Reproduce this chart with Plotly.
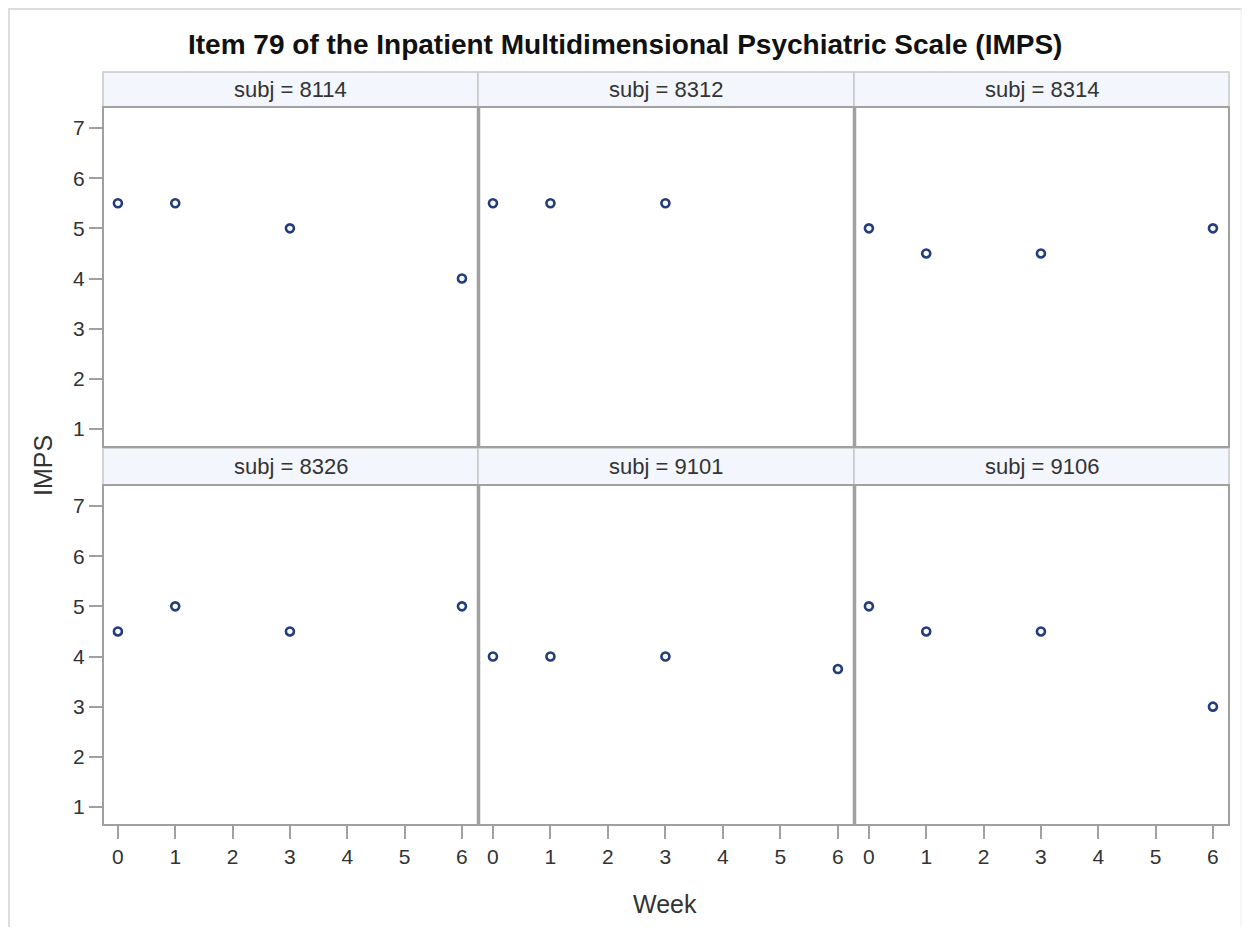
import plotly.graph_objects as go

# The page body has an 8px margin, so the figure is sized to fit the window.
W, H = 1234, 919
OFF = 8  # page offset of the figure

subjects = ["8114", "8312", "8314", "8326", "9101", "9106"]
weeks = {
    "8114": [0, 1, 3, 6],
    "8312": [0, 1, 3],
    "8314": [0, 1, 3, 6],
    "8326": [0, 1, 3, 6],
    "9101": [0, 1, 3, 6],
    "9106": [0, 1, 3, 6],
}
imps = {
    "8114": [5.5, 5.5, 5.0, 4.0],
    "8312": [5.5, 5.5, 5.5],
    "8314": [5.0, 4.5, 4.5, 5.0],
    "8326": [4.5, 5.0, 4.5, 5.0],
    "9101": [4.0, 4.0, 4.0, 3.75],
    "9106": [5.0, 4.5, 4.5, 3.0],
}
x_ticks = [0, 1, 2, 3, 4, 5, 6]
y_ticks = [1, 2, 3, 4, 5, 6, 7]

title = "Item 79 of the Inpatient Multidimensional Psychiatric Scale (IMPS)"

# pixel layout (page coordinates)
col_x = [(103, 478), (478, 854), (854, 1229)]
row_plot = [(107, 447), (485, 825)]
row_head = [(72, 107), (448, 485)]

def px(x):
    return (x - OFF) / W

def py(y):
    return 1 - (y - OFF) / H

FONT = "Liberation Sans, Arial, sans-serif"
TXT = "#333333"
BORDER = "#A0A0A0"

fig = go.Figure()
shapes = []
annotations = []

for i, s in enumerate(subjects):
    r, c = divmod(i, 3)
    n = i + 1
    xa = "xaxis" if n == 1 else f"xaxis{n}"
    ya = "yaxis" if n == 1 else f"yaxis{n}"
    xr = "x" if n == 1 else f"x{n}"
    yr = "y" if n == 1 else f"y{n}"
    x0, x1 = col_x[c]
    y0, y1 = row_plot[r]
    h0, h1 = row_head[r]
    fig.add_trace(go.Scatter(
        x=weeks[s], y=imps[s], mode="markers", xaxis=xr, yaxis=yr,
        marker=dict(symbol="circle-open", size=8, color="#233D7B",
                    line=dict(width=2.6, color="#233D7B")),
        showlegend=False, hoverinfo="x+y"))
    fig.layout[xa] = dict(
        domain=[px(x0), px(x1)], range=[-0.26, 6.28], anchor=yr,
        tickvals=x_ticks, showticklabels=(r == 1), ticks="outside" if r == 1 else "",
        ticklen=13, tickcolor=BORDER, tickwidth=1.5, showgrid=False, zeroline=False,
        showline=False, tickfont=dict(family=FONT, size=21, color=TXT), fixedrange=True)
    fig.layout[ya] = dict(
        domain=[py(y1), py(y0)], range=[0.64, 7.42], anchor=xr,
        tickvals=y_ticks, showticklabels=(c == 0), ticks="outside" if c == 0 else "",
        ticklen=13, tickcolor=BORDER, tickwidth=1.5, showgrid=False, zeroline=False,
        showline=False, tickfont=dict(family=FONT, size=21, color=TXT), fixedrange=True)
    # header strip
    shapes.append(dict(type="rect", xref="paper", yref="paper",
                       x0=px(x0), x1=px(x1), y0=py(h1), y1=py(h0),
                       fillcolor="#F3F6FC", line=dict(color="#C8C8C8", width=1.5), layer="below"))
    annotations.append(dict(text=f"subj = {s}", xref="paper", yref="paper",
                            x=px((x0 + x1) / 2), y=py((h0 + h1) / 2), showarrow=False,
                            xanchor="center", yanchor="middle",
                            font=dict(family=FONT, size=22, color=TXT)))
    # plot border
    shapes.append(dict(type="rect", xref="paper", yref="paper",
                       x0=px(x0), x1=px(x1), y0=py(y1), y1=py(y0),
                       fillcolor="rgba(0,0,0,0)", line=dict(color=BORDER, width=2), layer="above"))

# thicker dividers between adjacent plot panels
for r in range(2):
    y0, y1 = row_plot[r]
    for xd in (478.5, 854.5):
        shapes.append(dict(type="line", xref="paper", yref="paper",
                           x0=px(xd), x1=px(xd), y0=py(y1), y1=py(y0),
                           line=dict(color=BORDER, width=3.5), layer="above"))

# outer faint frame
shapes.append(dict(type="line", xref="paper", yref="paper", x0=px(9), x1=px(9), y0=0, y1=1,
                   line=dict(color="#DDDDDD", width=2)))
shapes.append(dict(type="line", xref="paper", yref="paper", x0=px(9), x1=1, y0=py(9), y1=py(9),
                   line=dict(color="#DDDDDD", width=2)))
shapes.append(dict(type="line", xref="paper", yref="paper", x0=px(1241), x1=px(1241), y0=0, y1=1,
                   line=dict(color="#EEEEEE", width=1)))

annotations.append(dict(text=f"<b>{title}</b>", xref="paper", yref="paper",
                        x=px(625), y=py(45), showarrow=False, xanchor="center", yanchor="middle",
                        font=dict(family=FONT, size=28, color="#111111")))
annotations.append(dict(text="IMPS", xref="paper", yref="paper", x=px(43), y=py(466),
                        showarrow=False, textangle=-90, xanchor="center", yanchor="middle",
                        font=dict(family=FONT, size=25, color=TXT)))
annotations.append(dict(text="Week", xref="paper", yref="paper", x=px(665), y=py(904),
                        showarrow=False, xanchor="center", yanchor="middle",
                        font=dict(family=FONT, size=25, color=TXT)))

fig.update_layout(width=W, height=H, margin=dict(l=0, r=0, t=0, b=0),
                  paper_bgcolor="white", plot_bgcolor="white",
                  shapes=shapes, annotations=annotations)

fig.write_html("out.html")
